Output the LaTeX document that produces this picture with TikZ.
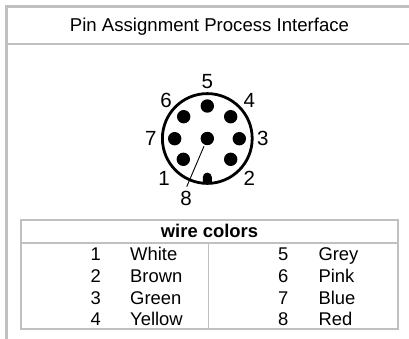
\documentclass[tikz,border=0pt]{standalone}
\usepackage{fontspec}
\setmainfont{Liberation Sans}
\definecolor{framegrey}{HTML}{C0C0C0}
\tikzset{
  px/.style={x=1pt,y=-1pt},
  frameline/.style={draw=framegrey,line width=2.8pt},
  tableline/.style={draw=framegrey,line width=1.5pt},
  pin/.style={circle,fill=black,draw=none,minimum size=13.4pt,inner sep=0pt},
  pinlabel/.style={inner sep=0pt,font=\fontsize{20.5}{22}\selectfont},
  tcell/.style={inner sep=0pt,anchor=base,font=\fontsize{18.4}{20}\selectfont},
  colorname/.style={tcell,anchor=base west},
}
\begin{document}
\begin{tikzpicture}[px]
\useasboundingbox (0,0) rectangle (409,339);
% frame
\coordinate (ftl) at (6.5,6.3);
\coordinate (ftr) at (409,6.3);
\coordinate (fbl) at (6.5,339);
\coordinate (fml) at (6.5,44);
\coordinate (fmr) at (409,44);
\draw[frameline] (fbl) -- (ftl) -- (ftr);
\draw[frameline] (fml) -- (fmr);
\node[tcell,font=\fontsize{18.6}{20}\selectfont] (title) at (209.5,32) {Pin Assignment Process Interface};
% connector
\draw[line width=2.8pt] (207.3,138.5) circle (44.9);
\fill (202.8,184) -- (202.8,177.1) arc[start angle=180,end angle=0,x radius=4.5,y radius=-4.5] -- (211.8,184) -- cycle;
\node[pin] (p5) at (207.3,106) {};
\node[pin] (p6) at (183.7,116.7) {};
\node[pin] (p4) at (230.7,116.7) {};
\node[pin] (p7) at (174.7,138.7) {};
\node[pin] (p3) at (239.3,138.7) {};
\node[pin] (p8) at (207.3,138.5) {};
\node[pin] (p1) at (183.3,159.3) {};
\node[pin] (p2) at (230.7,159.3) {};
\node[pinlabel] (l5) at (207.3,81.7) {5};
\node[pinlabel] (l6) at (166,100.7) {6};
\node[pinlabel] (l4) at (249.3,100.7) {4};
\node[pinlabel] (l7) at (150.7,138.3) {7};
\node[pinlabel] (l3) at (262.7,138.3) {3};
\node[pinlabel] (l1) at (164,178.3) {1};
\node[pinlabel] (l2) at (249.3,178.3) {2};
\node[pinlabel] (l8) at (186,198.3) {8};
\coordinate (w8) at (186.7,186.7);
\draw[line width=0.9pt,shorten <=1.5pt] (p8) -- (w8);
% table
\draw[tableline] (21,220) rectangle (398,329);
\coordinate (hl) at (21,243); \coordinate (hr) at (398,243);
\coordinate (vt) at (208.3,243); \coordinate (vb) at (208.3,329);
\draw[tableline] (hl) -- (hr);
\draw[tableline] (vt) -- (vb);
\node[tcell,font=\fontsize{18.4}{20}\selectfont\bfseries] (hdr) at (209.5,237.5) {wire colors};
\node[tcell] (n1) at (95.7,260.7) {1};
\node[tcell] (n2) at (95.7,282.4) {2};
\node[tcell] (n3) at (95.7,304) {3};
\node[tcell] (n4) at (95.7,325.7) {4};
\node[colorname] (c1) at (130,260.7) {White};
\node[colorname] (c2) at (130,282.4) {Brown};
\node[colorname] (c3) at (130,304) {Green};
\node[colorname] (c4) at (130,325.7) {Yellow};
\node[tcell] (n5) at (283.3,260.7) {5};
\node[tcell] (n6) at (283.3,282.4) {6};
\node[tcell] (n7) at (283.3,304) {7};
\node[tcell] (n8) at (283.3,325.7) {8};
\node[colorname] (c5) at (318.3,260.7) {Grey};
\node[colorname] (c6) at (318.3,282.4) {Pink};
\node[colorname] (c7) at (318.3,304) {Blue};
\node[colorname] (c8) at (318.3,325.7) {Red};
\end{tikzpicture}
\end{document}
